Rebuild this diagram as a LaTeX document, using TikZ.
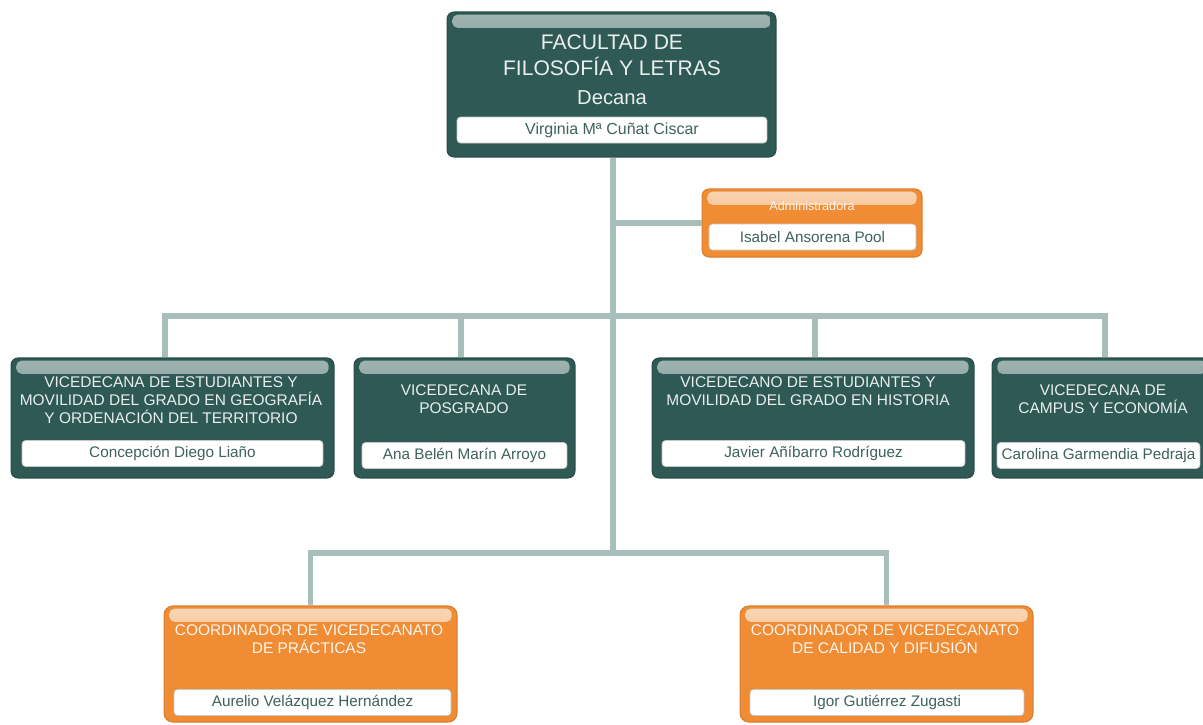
\documentclass[tikz,border=0pt]{standalone}
\usepackage{fontspec}
\setmainfont{Liberation Sans}
\usetikzlibrary{positioning, calc}
\definecolor{deanteal}{RGB}{46,89,84}
\definecolor{orangebox}{RGB}{240,140,52}
\definecolor{linkgray}{RGB}{168,190,186}
\definecolor{nametext}{RGB}{62,98,93}

\begin{document}
\begin{tikzpicture}[
  x=0.02cm, y=-0.02cm,
  unit/.style={draw=deanteal!85!black, line width=0.6pt, fill=deanteal, rounded corners=4pt,
    minimum height=2.4cm, inner sep=0pt,
    path picture={\shade[top color=white!55!deanteal, bottom color=deanteal!85!white, rounded corners=3pt]
      ([shift={(3pt,-1.5pt)}]path picture bounding box.north west) rectangle
      ([shift={(-3pt,-9pt)}]path picture bounding box.north east);}},
  coord/.style={draw=orangebox!90!black, line width=0.6pt, fill=orangebox, rounded corners=5pt,
    minimum height=2.32cm, inner sep=0pt,
    path picture={\shade[top color=orangebox!35!white, bottom color=orangebox!90!white, rounded corners=3pt]
      ([shift={(3pt,-1.5pt)}]path picture bounding box.north west) rectangle
      ([shift={(-3pt,-9pt)}]path picture bounding box.north east);}},
  namebox/.style={draw=gray!45, fill=white, rounded corners=2pt, minimum height=0.52cm,
    inner sep=0pt, text=nametext, font=\fontsize{8.7}{10}\selectfont},
  title/.style={text=white!90!deanteal, align=center, font=\fontsize{8.8}{10.2}\selectfont},
  link/.style={draw=linkgray, line width=3.4pt}
]
\useasboundingbox (0,0) rectangle (1203,724);

% Decana
\node[unit, minimum width=6.58cm, minimum height=2.9cm] (dean) at (611.5,84.5) {};
\node[title, font=\fontsize{12}{14.8}\selectfont] (deantitle) at (612,55) {FACULTAD DE\\FILOSOFÍA Y LETRAS};
\node[title, font=\fontsize{11.5}{14}\selectfont] (deanrole) at (612,98) {Decana};
\node[namebox, minimum width=6.2cm, font=\fontsize{9.1}{10}\selectfont] (deanname) at (612,130) {Virginia Mª Cuñat Ciscar};

% Administradora
\node[coord, minimum width=4.4cm, minimum height=1.36cm, rounded corners=4pt] (admin) at (812,223) {};
\node[title, text=white!92!orangebox, font=\fontsize{7.2}{8}\selectfont] (admintitle) at (812,206) {Administradora};
\node[namebox, minimum width=4.14cm] (adminname) at (812.5,237) {Isabel Ansorena Pool};

% Vicedecanatos
\node[unit, minimum width=6.46cm] (vA) at (172.5,418) {};
\node[title] (vAtitle) at (171,400) {VICEDECANA DE ESTUDIANTES Y\\MOVILIDAD DEL GRADO EN GEOGRAFÍA\\Y ORDENACIÓN DEL TERRITORIO};
\node[namebox, minimum width=6.02cm] (vAname) at (172.5,453.5) {Concepción Diego Liaño};

\node[unit, minimum width=4.42cm] (vB) at (464.5,418) {};
\node[title] (vBtitle) at (464,399) {VICEDECANA DE\\POSGRADO};
\node[namebox, minimum width=4.1cm] (vBname) at (464.5,455.5) {Ana Belén Marín Arroyo};

\node[unit, minimum width=6.44cm] (vC) at (813,418) {};
\node[title] (vCtitle) at (808,391) {VICEDECANO DE ESTUDIANTES Y\\MOVILIDAD DEL GRADO EN HISTORIA};
\node[namebox, minimum width=6.06cm] (vCname) at (813.5,453.5) {Javier Añíbarro Rodríguez};

\node[unit, minimum width=4.4cm] (vD) at (1102,418) {};
\node[title] (vDtitle) at (1103,399) {VICEDECANA DE\\CAMPUS Y ECONOMÍA};
\node[namebox, minimum width=4.06cm] (vDname) at (1098.5,455.5) {Carolina Garmendia Pedraja};

% Coordinadores
\node[coord, minimum width=5.86cm] (cA) at (310.5,664) {};
\node[title, text=white!92!orangebox] (cAtitle) at (309,639) {COORDINADOR DE VICEDECANATO\\DE PRÁCTICAS};
\node[namebox, minimum width=5.54cm] (cAname) at (312.5,702.5) {Aurelio Velázquez Hernández};

\node[coord, minimum width=5.86cm] (cB) at (886.5,664) {};
\node[title, text=white!92!orangebox] (cBtitle) at (885,639) {COORDINADOR DE VICEDECANATO\\DE CALIDAD Y DIFUSIÓN};
\node[namebox, minimum width=5.48cm] (cBname) at (887,702.5) {Igor Gutiérrez Zugasti};

% Connectors
\coordinate (bus) at (613,316);
\coordinate (trunk) at (613,553);
\draw[link] (dean.south -| trunk) -- (trunk);
\draw[link] (admin.west -| trunk) -- (admin.west);
\draw[link] ([xshift=-0.15cm]vA.north) -- ([xshift=-0.15cm]vA.north |- bus)
  -- ([xshift=0.06cm]vD.north |- bus) -- ([xshift=0.06cm]vD.north);
\draw[link] ([xshift=-0.07cm]vB.north |- bus) -- ([xshift=-0.07cm]vB.north);
\draw[link] ([xshift=0.04cm]vC.north |- bus) -- ([xshift=0.04cm]vC.north);
\draw[link] (cA.north) -- (cA.north |- trunk) -- (cB.north |- trunk) -- (cB.north);

\end{tikzpicture}
\end{document}
